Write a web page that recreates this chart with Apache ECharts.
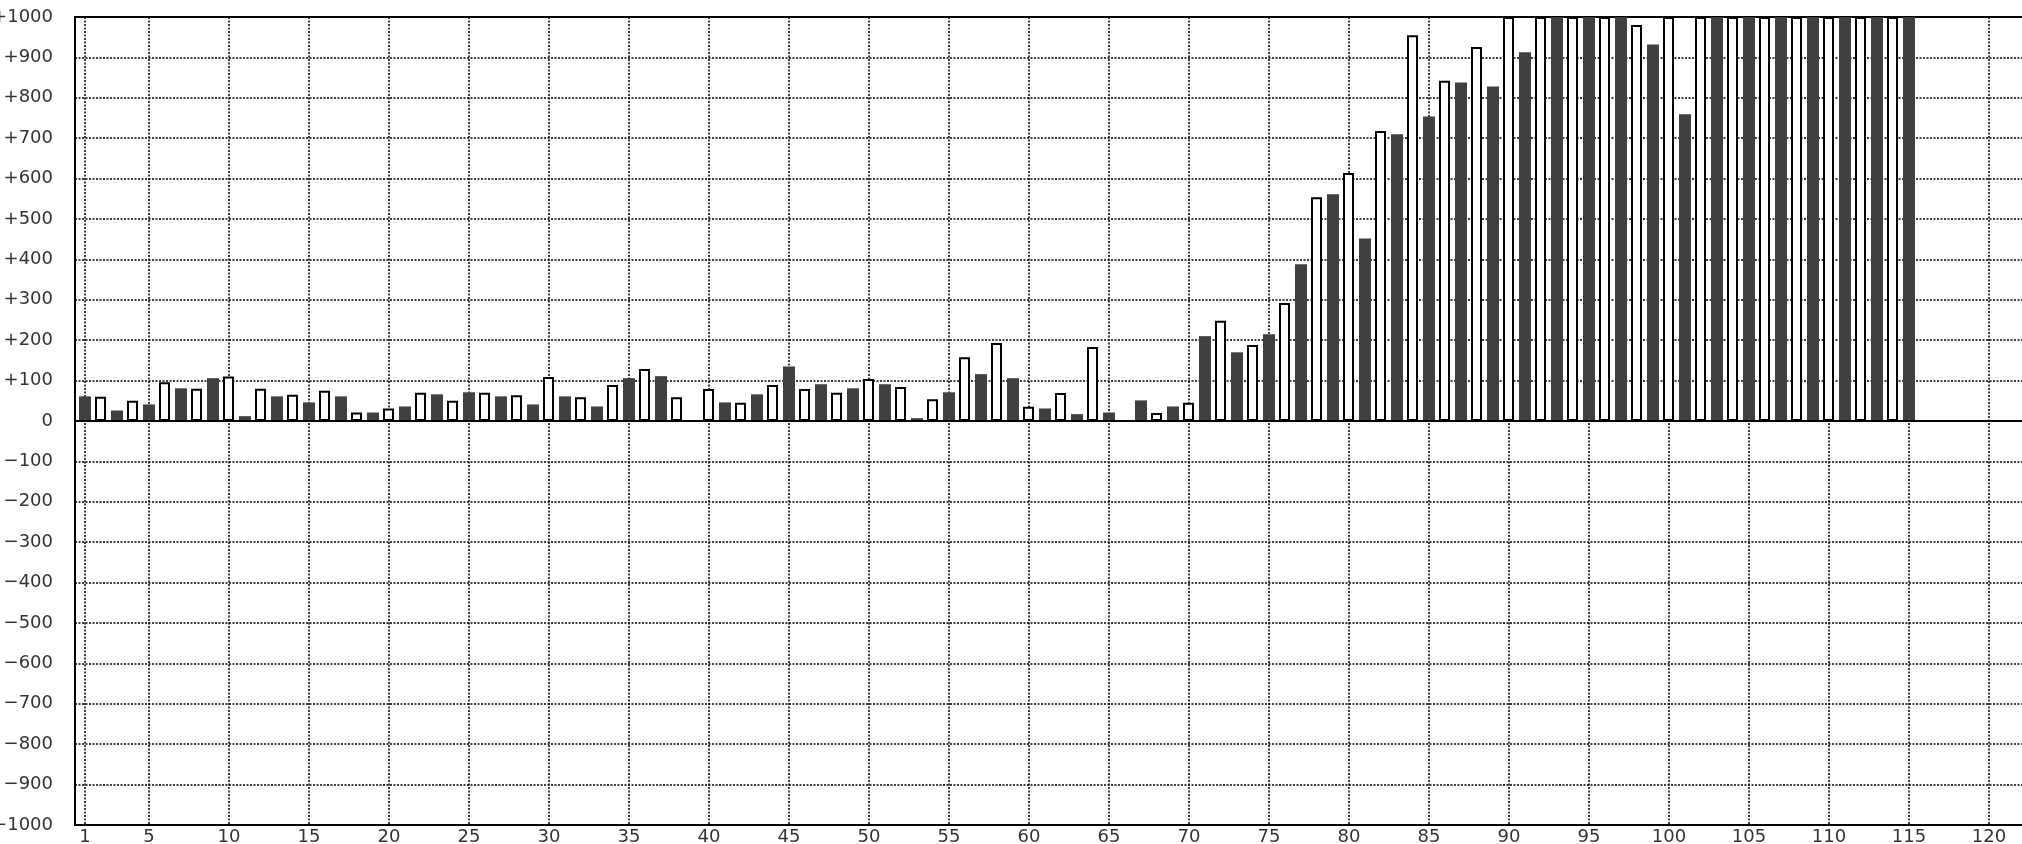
<!DOCTYPE html>
<html>
<head>
<meta charset="utf-8">
<script src="https://cdn.jsdelivr.net/npm/echarts@6/dist/echarts.min.js"></script>
<style>
html,body{margin:0;padding:0;background:#fff;}
#chart{width:2022px;height:844px;}
</style>
</head>
<body>
<div id="chart"></div>
<script>
// values for positions 1..115 (alternating dark / white bars); >1000 shown clipped at 1000
const values = [
  61, 60, 26, 50, 41, 96, 81, 80, 106, 110,
  12, 80, 61, 65, 46, 75, 61, 21, 21, 31,
  36, 70, 66, 50, 71, 70, 61, 64, 41, 109,
  61, 59, 36, 89, 106, 129, 111, 59, 0, 79,
  46, 45, 66, 89, 135, 79, 91, 70, 81, 104,
  91, 84, 7, 54, 71, 158, 116, 193, 106, 35,
  31, 69, 17, 183, 21, 0, 51, 20, 36, 45,
  210, 248, 170, 188, 215, 292, 388, 554, 561, 614,
  452, 718, 710, 955, 754, 842, 838, 926, 828, 1000,
  913, 1000, 1000, 1000, 1000, 1000, 1000, 980, 932, 1000,
  759, 1000, 1000, 1000, 1000, 1000, 1000, 1000, 1000, 1000,
  1000, 1000, 1000, 1000, 1000
];
const xTicks = [1, 5, 10, 15, 20, 25, 30, 35, 40, 45, 50, 55, 60, 65, 70, 75, 80, 85, 90, 95, 100, 105, 110, 115, 120];
const yMin = -1000, yMax = 1000, yStep = 100;

const darkData = [], whiteData = [];
values.forEach((v, i) => {
  const pos = i + 1;
  if (pos % 2 === 1) darkData.push([pos, v]); else whiteData.push([pos, v]);
});

const font = 'DejaVu Sans';
const gridLine = {color: '#000', width: 1.5, type: [2, 1.5]};
const chart = echarts.init(document.getElementById('chart'), null, {renderer: 'canvas'});
chart.setOption({
  animation: false,
  backgroundColor: '#fff',
  grid: {left: 75, top: 17, width: 1960, height: 808, show: true, borderColor: '#000', borderWidth: 2,
         backgroundColor: 'transparent', containLabel: false, outerBoundsMode: 'none'},
  xAxis: {
    type: 'value', min: 0.375, max: 122.875,
    axisLine: {show: false},
    axisTick: {show: false, customValues: xTicks},
    axisLabel: {customValues: xTicks, fontFamily: font, fontSize: 18, color: '#333', margin: 3},
    splitLine: {show: true, lineStyle: gridLine}
  },
  yAxis: {
    type: 'value', min: yMin, max: yMax, interval: yStep,
    axisLine: {show: false},
    axisTick: {show: false},
    axisLabel: {
      fontFamily: font, fontSize: 18, color: '#333', margin: 22,
      formatter: v => v > 0 ? '+' + v : (v < 0 ? '\u2212' + (-v) : '0')
    },
    splitLine: {show: true, lineStyle: gridLine}
  },
  series: [
    {
      type: 'bar', name: 'white', data: whiteData, barWidth: 11, barGap: '-100%',
      itemStyle: {color: '#fff', borderColor: '#000', borderWidth: 2},
      markLine: {silent: true, symbol: 'none', label: {show: false},
        lineStyle: {color: '#000', width: 2, type: 'solid'}, data: [{yAxis: 0}]}
    },
    {
      type: 'bar', name: 'dark', data: darkData, barWidth: 12, barGap: '-100%',
      itemStyle: {color: '#404040'}
    }
  ]
});
</script>
</body>
</html>
